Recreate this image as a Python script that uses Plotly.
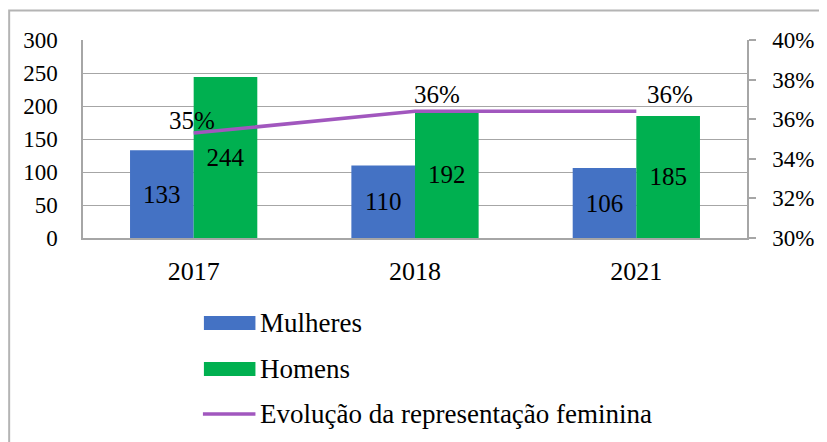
import plotly.graph_objects as go

# ---- data ----
years = ["2017", "2018", "2021"]
mulheres = [133, 110, 106]
homens = [244, 192, 185]
pct_fem = [0.353, 0.364, 0.364]
series_names = ["Mulheres", "Homens", "Evolução da representação feminina"]
left_ticks = [0, 50, 100, 150, 200, 250, 300]
right_ticks = [0.30, 0.32, 0.34, 0.36, 0.38, 0.40]

# ---- styling ----
FONT = "Liberation Serif"
BLUE = "#4472C4"
GREEN = "#00B050"
PURPLE = "#A157BE"
GRID = "#A6A6A6"
OFF = 8                     # page body margin of the html file
W, H = 827 - OFF, 442 - OFF
# plot area in page pixels: x 83..753, y 40..238
L, R, T, B = 83 - OFF, 827 - 753, 40 - OFF, 442 - 238
PW, PH = 753 - 83, 238 - 40

def xp(px):
    return (px - 83) / PW

def yp(py):
    return (238 - py) / PH

fig = go.Figure()
fig.add_trace(go.Bar(
    x=years, y=mulheres, name=series_names[0], marker_color=BLUE,
    marker_line_width=0,
    text=[str(v) for v in mulheres], textposition="inside",
    insidetextanchor="middle", textangle=0,
    textfont=dict(family=FONT, size=25, color="black"),
    showlegend=False,
))
fig.add_trace(go.Bar(
    x=years, y=homens, name=series_names[1], marker_color=GREEN,
    marker_line_width=0,
    text=[str(v) for v in homens], textposition="inside",
    insidetextanchor="middle", textangle=0,
    textfont=dict(family=FONT, size=25, color="black"),
    showlegend=False,
))
fig.add_trace(go.Scatter(
    x=years, y=pct_fem, name=series_names[2], yaxis="y2",
    mode="lines", line=dict(color=PURPLE, width=3.5),
    showlegend=False,
))

# percentage labels
label_xshift = [-2, 22, 34]
label_yshift = [-3, 1, 1]
annotations = []
for i, v in enumerate(pct_fem):
    annotations.append(dict(
        x=i, y=v, xref="x", yref="y2", text=f"{v:.0%}", showarrow=False,
        xanchor="center", yanchor="bottom",
        xshift=label_xshift[i], yshift=label_yshift[i],
        font=dict(family=FONT, size=25, color="black"),
    ))

# manual legend
legend_rows = [323, 369, 414]
shapes = []
for i, name in enumerate(series_names):
    cy = legend_rows[i]
    if i < 2:
        shapes.append(dict(
            type="rect", xref="paper", yref="paper",
            x0=xp(205), x1=xp(257), y0=yp(cy - 7), y1=yp(cy + 7),
            fillcolor=[BLUE, GREEN][i], line_width=0,
        ))
    else:
        shapes.append(dict(
            type="line", xref="paper", yref="paper",
            x0=xp(204), x1=xp(257), y0=yp(cy), y1=yp(cy),
            line=dict(color=PURPLE, width=3.5),
        ))
    annotations.append(dict(
        x=xp(260), y=yp(cy), xref="paper", yref="paper", text=name,
        showarrow=False, xanchor="left", yanchor="middle",
        font=dict(family=FONT, size=27, color="black"),
    ))

# outer chart border
shapes.append(dict(
    type="rect", xref="paper", yref="paper",
    x0=xp(8.5), x1=xp(840), y0=yp(455), y1=yp(10.5),
    line=dict(color="#B4B4B4", width=2), fillcolor="rgba(0,0,0,0)", layer="below",
))

fig.update_layout(
    width=W, height=H,
    margin=dict(l=L, r=R, t=T, b=B, pad=0),
    paper_bgcolor="white", plot_bgcolor="white",
    barmode="group", bargap=0.425, bargroupgap=0,
    showlegend=False,
    xaxis=dict(
        type="category", categoryorder="array", categoryarray=years,
        range=[-0.5, 2.5], showgrid=False, showline=True, linecolor=GRID, linewidth=1.5,
        ticks="", tickfont=dict(family=FONT, size=26, color="black"), ticklabelstandoff=9,
    ),
    yaxis=dict(
        range=[0, 300], tickvals=left_ticks, showgrid=True, gridcolor=GRID, gridwidth=1.3,
        showline=True, linecolor=GRID, linewidth=1.5, ticks="",
        tickfont=dict(family=FONT, size=23, color="black"), ticklabelstandoff=19, zeroline=False,
    ),
    yaxis2=dict(
        overlaying="y", side="right", range=[0.30, 0.40], tickvals=right_ticks,
        tickformat=".0%", showgrid=False, showline=True, linecolor=GRID, linewidth=1.5,
        ticks="outside", ticklen=7, tickcolor=GRID, tickwidth=1.5,
        tickfont=dict(family=FONT, size=23, color="black"), ticklabelstandoff=12, zeroline=False,
    ),
    annotations=annotations,
    shapes=shapes,
)

fig.write_html("out.html")
